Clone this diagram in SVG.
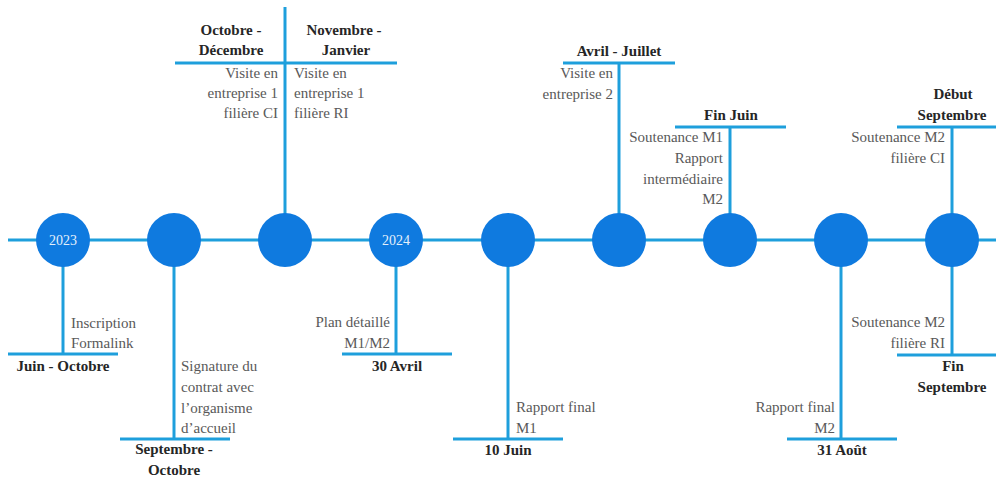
<svg xmlns="http://www.w3.org/2000/svg" width="996" height="478" viewBox="0 0 996 478">
<style>
.ln{stroke:#1E9FDC;stroke-width:3;fill:none}
.dot{fill:#0F7ADF}
.t{font-family:"Liberation Serif","Times New Roman",serif;font-size:15px;fill:#595959}
.b{font-family:"Liberation Serif","Times New Roman",serif;font-size:15px;font-weight:bold;fill:#262626;text-anchor:middle}
.y{font-family:"Liberation Serif","Times New Roman",serif;font-size:14px;fill:#E4F0FB;text-anchor:middle}
.r{text-anchor:end}
</style>
<rect width="996" height="478" fill="#ffffff"/>
<g id="connectors">
<line class="ln" x1="8" y1="240" x2="996" y2="240"/>
<line class="ln" x1="63" y1="240" x2="63" y2="354"/>
<line class="ln" x1="8" y1="354" x2="118" y2="354"/>
<line class="ln" x1="174" y1="240" x2="174" y2="439"/>
<line class="ln" x1="120" y1="439" x2="230" y2="439"/>
<line class="ln" x1="285" y1="240" x2="285" y2="7"/>
<line class="ln" x1="175" y1="63" x2="397" y2="63"/>
<line class="ln" x1="396" y1="240" x2="396" y2="354"/>
<line class="ln" x1="342" y1="354" x2="452" y2="354"/>
<line class="ln" x1="508" y1="240" x2="508" y2="439"/>
<line class="ln" x1="453" y1="439" x2="563" y2="439"/>
<line class="ln" x1="619" y1="240" x2="619" y2="63"/>
<line class="ln" x1="563" y1="63" x2="675" y2="63"/>
<line class="ln" x1="730" y1="240" x2="730" y2="127"/>
<line class="ln" x1="675" y1="127" x2="786" y2="127"/>
<line class="ln" x1="841" y1="240" x2="841" y2="439"/>
<line class="ln" x1="787" y1="439" x2="897" y2="439"/>
<line class="ln" x1="952" y1="240" x2="952" y2="127"/>
<line class="ln" x1="897" y1="127" x2="996" y2="127"/>
<line class="ln" x1="952" y1="240" x2="952" y2="355"/>
<line class="ln" x1="897" y1="355" x2="996" y2="355"/>
</g>
<g id="n1">
<circle class="dot" cx="63" cy="240" r="27"/>
<text class="y" x="63" y="245">2023</text>
<text class="t" x="71" y="328">Inscription</text>
<text class="t" x="71" y="348">Formalink</text>
<text class="b" x="63" y="371">Juin - Octobre</text>
</g>
<g id="n2">
<circle class="dot" cx="174" cy="240" r="27"/>
<text class="t" x="181" y="371">Signature du</text>
<text class="t" x="181" y="392">contrat avec</text>
<text class="t" x="181" y="413">l’organisme</text>
<text class="t" x="181" y="433">d’accueil</text>
<text class="b" x="174" y="454">Septembre -</text>
<text class="b" x="174" y="475">Octobre</text>
</g>
<g id="n3">
<circle class="dot" cx="285" cy="240" r="27"/>
<text class="b" x="231" y="35">Octobre -</text>
<text class="b" x="231" y="55">Décembre</text>
<text class="b" x="344" y="35">Novembre -</text>
<text class="b" x="346" y="55">Janvier</text>
<text class="t r" x="278" y="78">Visite en</text>
<text class="t r" x="278" y="98">entreprise 1</text>
<text class="t r" x="278" y="118">filière CI</text>
<text class="t" x="294" y="78">Visite en</text>
<text class="t" x="294" y="98">entreprise 1</text>
<text class="t" x="294" y="118">filière RI</text>
</g>
<g id="n4">
<circle class="dot" cx="396" cy="240" r="27"/>
<text class="y" x="396" y="245">2024</text>
<text class="t r" x="390" y="327">Plan détaillé</text>
<text class="t r" x="390" y="348">M1/M2</text>
<text class="b" x="397" y="371">30 Avril</text>
</g>
<g id="n5">
<circle class="dot" cx="508" cy="240" r="27"/>
<text class="t" x="516" y="412">Rapport final</text>
<text class="t" x="516" y="433">M1</text>
<text class="b" x="508" y="455">10 Juin</text>
</g>
<g id="n6">
<circle class="dot" cx="619" cy="240" r="27"/>
<text class="b" x="619" y="56">Avril - Juillet</text>
<text class="t r" x="613" y="78">Visite en</text>
<text class="t r" x="613" y="99">entreprise 2</text>
</g>
<g id="n7">
<circle class="dot" cx="730" cy="240" r="27"/>
<text class="b" x="731" y="120">Fin Juin</text>
<text class="t r" x="723" y="142">Soutenance M1</text>
<text class="t r" x="723" y="163">Rapport</text>
<text class="t r" x="723" y="184">intermédiaire</text>
<text class="t r" x="723" y="204">M2</text>
</g>
<g id="n8">
<circle class="dot" cx="841" cy="240" r="27"/>
<text class="t r" x="835" y="412">Rapport final</text>
<text class="t r" x="835" y="433">M2</text>
<text class="b" x="842" y="455">31 Août</text>
</g>
<g id="n9">
<circle class="dot" cx="952" cy="240" r="27"/>
<text class="b" x="953" y="99">Début</text>
<text class="b" x="952" y="120">Septembre</text>
<text class="t r" x="945" y="142">Soutenance M2</text>
<text class="t r" x="945" y="163">filière CI</text>
<text class="t r" x="945" y="327">Soutenance M2</text>
<text class="t r" x="945" y="348">filière RI</text>
<text class="b" x="953" y="371">Fin</text>
<text class="b" x="952" y="392">Septembre</text>
</g>
</svg>
